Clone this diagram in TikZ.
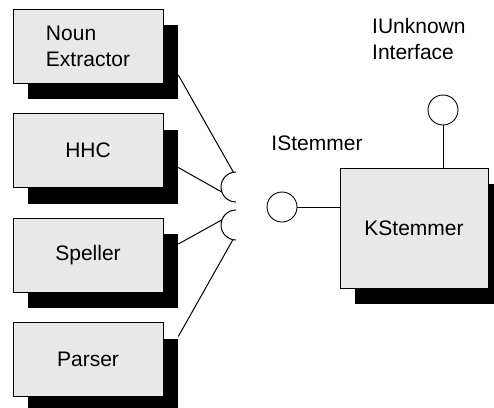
\documentclass[tikz,border=0pt]{standalone}
\usepackage{fontspec}
\setmainfont{Liberation Sans}
\usetikzlibrary{positioning,shadows}

\tikzset{
  module/.style={draw, line width=0.6pt, fill=gray!18, minimum width=150pt, minimum height=74pt,
    align=left, drop shadow={shadow xshift=15pt, shadow yshift=-16pt, fill=black, opacity=1}},
  lolli/.style={circle, draw, line width=0.9pt, minimum size=30pt, inner sep=0pt},
  wire/.style={line width=1pt}
}

\begin{document}
\begin{tikzpicture}[x=1pt,y=1pt,node distance=104.5pt,on grid,font=\fontsize{21}{26}\selectfont]
  \useasboundingbox (0,0) rectangle (494,-407);
                        \node[module] (Noun) at (88,-46) {Noun\\Extractor};
                        \node[module] (HHC) [below of=Noun] {HHC};
                        \node[module] (Speller) [below of=HHC] {Speller};
                        \node[module] (Parser) [below of=Speller] {Parser};
                        \node[module, minimum width=148pt, minimum height=120pt] (KStem) at (414,-228) {\raisebox{-9pt}{KStemmer}};
                        \node[lolli] (IStem) at (282,-207) {};
                        \node[lolli] (IUnk) at (443,-110) {};
                        \node (IStemLbl) at (317,-143) {IStemmer};
                        \node[anchor=north west, inner sep=0pt, align=left] (IUnkLbl) at (372,-18) {IUnknown\\Interface};
                        \coordinate (SockA) at (236,-187);
                        \coordinate (SockB) at (236,-225);
                        % sockets
                        \draw[wire] (SockA) ++(0,15) arc (90:270:15);
                        \draw[wire] (SockB) ++(0,15) arc (90:270:15);
                        \path[wire]
                        ([shift={(15,-29)}]Noun.east) edge ([shift={(100:15)}]SockA)
                        ([shift={(15,-17)}]HHC.east) edge ([shift={(200:15)}]SockA)
                        ([shift={(15,11)}]Speller.east) edge ([shift={(160:15)}]SockB)
                        ([shift={(15,23)}]Parser.east) edge ([shift={(258:15)}]SockB)
                        (IStem.east) edge (IStem.east -| KStem.west)
                        (IUnk.south) edge (IUnk.south |- KStem.north);
                    \end{tikzpicture}
\end{document}
